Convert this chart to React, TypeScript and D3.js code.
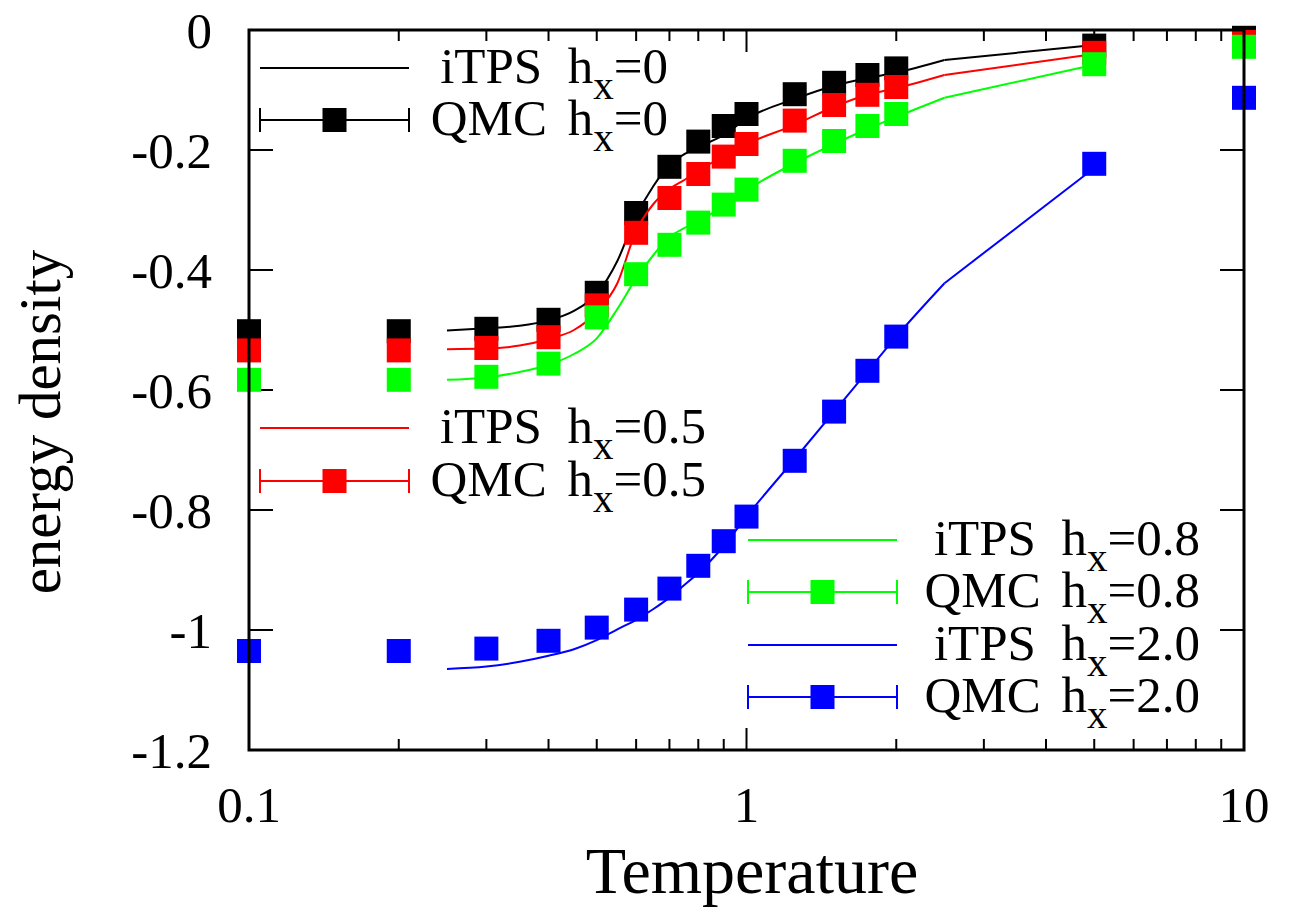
import React from "react";
import * as d3 from "d3";

// ---------- data ----------
const qmcT = [0.1, 0.2, 0.3, 0.4, 0.5, 0.6, 0.7, 0.8, 0.9, 1.0, 1.25, 1.5, 1.75, 2.0, 5.0, 10.0];
const qmcH0 = [-0.502, -0.502, -0.498, -0.483, -0.438, -0.305, -0.228, -0.186, -0.16, -0.14, -0.107, -0.088, -0.075, -0.064, -0.026, -0.013];
const qmcH05 = [-0.534, -0.534, -0.53, -0.512, -0.459, -0.338, -0.28, -0.24, -0.211, -0.19, -0.151, -0.125, -0.108, -0.095, -0.038, -0.02];
const qmcH08 = [-0.583, -0.583, -0.578, -0.556, -0.479, -0.407, -0.358, -0.321, -0.291, -0.266, -0.218, -0.185, -0.16, -0.14, -0.057, -0.028];
const qmcH20 = [-1.035, -1.035, -1.031, -1.018, -0.996, -0.966, -0.931, -0.893, -0.852, -0.811, -0.718, -0.636, -0.568, -0.511, -0.223, -0.113];

const itpsT = [0.25, 0.3, 0.35, 0.4, 0.45, 0.5, 0.55, 0.6, 0.65, 0.7, 0.75, 0.8, 0.9, 1.0, 1.25, 1.5, 1.75, 2.0, 2.5, 5.0];
const itpsH0 = [-0.501, -0.497, -0.493, -0.484, -0.468, -0.44, -0.385, -0.31, -0.26, -0.225, -0.207, -0.195, -0.175, -0.148, -0.115, -0.093, -0.08, -0.071, -0.05, -0.025];
const itpsH05 = [-0.532, -0.531, -0.526, -0.515, -0.5, -0.47, -0.422, -0.335, -0.29, -0.265, -0.25, -0.235, -0.21, -0.19, -0.158, -0.128, -0.108, -0.097, -0.075, -0.04];
const itpsH08 = [-0.583, -0.579, -0.57, -0.558, -0.54, -0.514, -0.465, -0.414, -0.375, -0.345, -0.33, -0.318, -0.294, -0.267, -0.222, -0.19, -0.165, -0.145, -0.113, -0.058];
const itpsH20 = [-1.065, -1.061, -1.053, -1.043, -1.032, -1.017, -0.999, -0.983, -0.965, -0.946, -0.925, -0.905, -0.86, -0.811, -0.715, -0.636, -0.569, -0.511, -0.422, -0.23];

const fieldLabels = ["0", "0.5", "0.8", "2.0"];
const seriesColors = ["#000000", "#ff0000", "#00ff00", "#0000ff"];
const qmcSeries = [qmcH0, qmcH05, qmcH08, qmcH20];
const itpsSeries = [itpsH0, itpsH05, itpsH08, itpsH20];

const yTicks = [0, -0.2, -0.4, -0.6, -0.8, -1, -1.2];
const yTickLabels = ["0", "-0.2", "-0.4", "-0.6", "-0.8", "-1", "-1.2"];
const xMajorTicks = [0.1, 1, 10];
const xTickLabels = ["0.1", "1", "10"];
const xMinorTicks = [0.2, 0.3, 0.4, 0.5, 0.6, 0.7, 0.8, 0.9, 2, 3, 4, 5, 6, 7, 8, 9];

// ---------- layout ----------
const W = 1297;
const H = 912;
const L = 249, R = 1244, T = 30, B = 750;
const FONT = "'Liberation Serif', 'Times New Roman', serif";
const MS = 24; // marker size

const x = d3.scaleLog().domain([0.1, 10]).range([L, R]);
const y = d3.scaleLinear().domain([-1.2, 0]).range([B, T]);

function LegendLabel({ kind, field, xEnd, yRow }: { kind: string; field: string; xEnd: number; yRow: number }) {
  const isItps = kind === "iTPS";
  return (
    <text x={xEnd} y={yRow + 15} textAnchor="end" fontFamily={FONT} fontSize={51} fill="#000">
      <tspan>{isItps ? "iTPS\u00a0\u00a0" : "QMC\u00a0"}</tspan>
      <tspan dx={isItps ? 0 : 8}>h</tspan>
      <tspan dy={16} fontSize={41}>x</tspan>
      <tspan dy={-16}>{"=" + field}</tspan>
    </text>
  );
}

export default function App() {
  const smooth = d3
    .line<[number, number]>()
    .x((d) => x(d[0]))
    .y((d) => y(d[1]))
    .curve(d3.curveMonotoneX);
  const straight = d3
    .line<[number, number]>()
    .x((d) => x(d[0]))
    .y((d) => y(d[1]));

  const legends = [
    { x0: 260, x1: 409, xEnd: 668, rows: [68, 120], idx: 0 },
    { x0: 260, x1: 409, xEnd: 706, rows: [428, 481], idx: 1 },
    { x0: 748, x1: 897, xEnd: 1200, rows: [540, 592], idx: 2 },
    { x0: 748, x1: 897, xEnd: 1200, rows: [645, 697], idx: 3 },
  ];

  return (
    <svg
      width={W}
      height={H}
      viewBox={`0 0 ${W} ${H}`}
      style={{ position: "absolute", left: 0, top: 0, background: "#fff" }}
    >
      <rect x={0} y={0} width={W} height={H} fill="#fff" />

      {/* ticks */}
      {yTicks.map((v, i) => (
        <g key={"yt" + i}>
          <line x1={L} x2={L + 24} y1={y(v)} y2={y(v)} stroke="#000" strokeWidth={2} />
          <line x1={R} x2={R - 24} y1={y(v)} y2={y(v)} stroke="#000" strokeWidth={2} />
          <text x={212} y={y(v) + 18} textAnchor="end" fontFamily={FONT} fontSize={51} fill="#000">
            {yTickLabels[i]}
          </text>
        </g>
      ))}
      {xMajorTicks.map((v, i) => (
        <g key={"xt" + i}>
          <line x1={x(v)} x2={x(v)} y1={B} y2={B - 22} stroke="#000" strokeWidth={2} />
          <line x1={x(v)} x2={x(v)} y1={T} y2={T + 22} stroke="#000" strokeWidth={2} />
          <text x={x(v)} y={822} textAnchor="middle" fontFamily={FONT} fontSize={51} fill="#000">
            {xTickLabels[i]}
          </text>
        </g>
      ))}
      {xMinorTicks.map((v, i) => (
        <g key={"xm" + i}>
          <line x1={x(v)} x2={x(v)} y1={B} y2={B - 11} stroke="#000" strokeWidth={2} />
          <line x1={x(v)} x2={x(v)} y1={T} y2={T + 11} stroke="#000" strokeWidth={2} />
        </g>
      ))}

      {/* data */}
      {fieldLabels.map((f, si) => {
        const pts: [number, number][] = itpsT.map((t, k) => [t, itpsSeries[si][k]]);
        const n = pts.length;
        const smoothPts = pts.slice(0, n - 1);
        const lastSeg = pts.slice(n - 2);
        return (
          <g key={"s" + si}>
            <path d={smooth(smoothPts) || ""} fill="none" stroke={seriesColors[si]} strokeWidth={2} />
            <path d={straight(lastSeg) || ""} fill="none" stroke={seriesColors[si]} strokeWidth={2} />
            {qmcT.map((t, k) => (
              <rect
                key={k}
                x={x(t) - MS / 2}
                y={y(qmcSeries[si][k]) - MS / 2}
                width={MS}
                height={MS}
                fill={seriesColors[si]}
              />
            ))}
          </g>
        );
      })}

      {/* frame */}
      <rect x={L} y={T} width={R - L} height={B - T} fill="none" stroke="#000" strokeWidth={3} />

      {/* legends */}
      {legends.map((lg, i) => {
        const c = seriesColors[lg.idx];
        const cx = (lg.x0 + lg.x1) / 2;
        return (
          <g key={"lg" + i}>
            <line x1={lg.x0} x2={lg.x1} y1={lg.rows[0]} y2={lg.rows[0]} stroke={c} strokeWidth={2} />
            <LegendLabel kind="iTPS" field={fieldLabels[lg.idx]} xEnd={lg.xEnd} yRow={lg.rows[0]} />
            <line x1={lg.x0} x2={lg.x1} y1={lg.rows[1]} y2={lg.rows[1]} stroke={c} strokeWidth={2} />
            <line x1={lg.x0} x2={lg.x0} y1={lg.rows[1] - 12} y2={lg.rows[1] + 12} stroke={c} strokeWidth={2} />
            <line x1={lg.x1} x2={lg.x1} y1={lg.rows[1] - 12} y2={lg.rows[1] + 12} stroke={c} strokeWidth={2} />
            <rect x={cx - MS / 2} y={lg.rows[1] - MS / 2} width={MS} height={MS} fill={c} />
            <LegendLabel kind="QMC" field={fieldLabels[lg.idx]} xEnd={lg.xEnd} yRow={lg.rows[1]} />
          </g>
        );
      })}

      {/* axis titles */}
      <text
        transform={`translate(60, 422) rotate(-90)`}
        textAnchor="middle"
        fontFamily={FONT}
        fontSize={59}
        fill="#000"
      >
        energy density
      </text>
      <text x={752} y={893} textAnchor="middle" fontFamily={FONT} fontSize={66} fill="#000">
        Temperature
      </text>
    </svg>
  );
}
